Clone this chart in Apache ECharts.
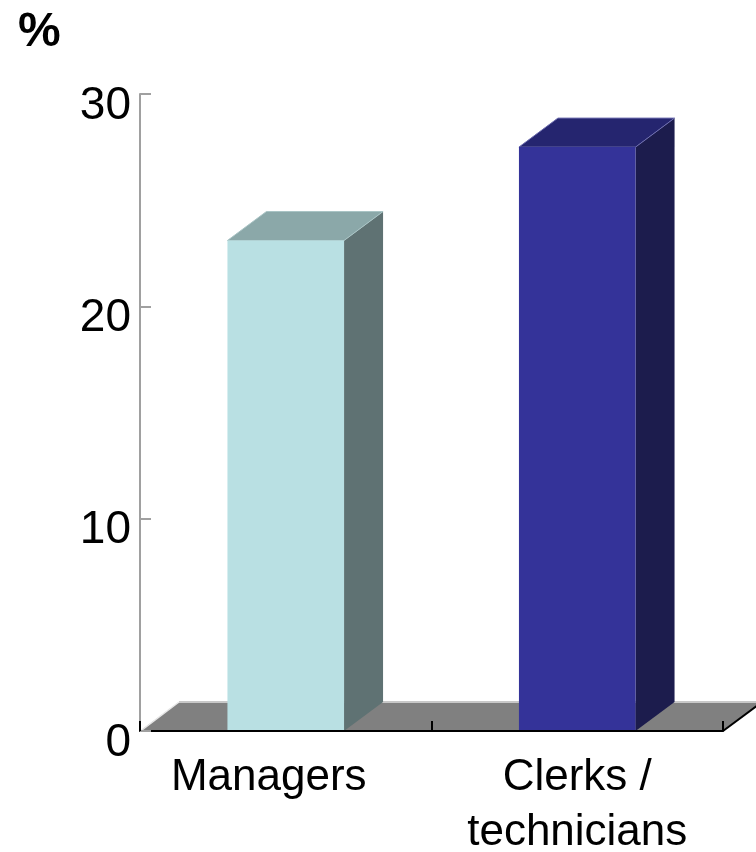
<!DOCTYPE html>
<html>
<head>
<meta charset="utf-8">
<script src="https://cdn.jsdelivr.net/npm/echarts@6/dist/echarts.min.js"></script>
<style>
  html, body { margin: 0; padding: 0; background: #ffffff; }
  #chart { width: 756px; height: 852px; }
</style>
</head>
<body>
<div id="chart"></div>
<script>
// Share of employees, by occupation (%)
const categories = ['Managers', 'Clerks /\ntechnicians'];
const shares = [23.1, 27.5];
const yTicks = [0, 10, 20, 30];

// Face colours per bar: front, top, side
const faceColors = [
  { front: '#b9e0e3', top: '#8ba8a9', side: '#5f7273', edge: '#a9c4c5' },
  { front: '#343399', top: '#25256f', side: '#1c1c4d', edge: '#6e6eb0' }
];

const FONT = '"Liberation Sans", Arial, Helvetica, sans-serif';
const DEPTH_X = 39;   // depth offset of the 3D look, in pixels
const DEPTH_Y = -29;
const BAR_RATIO = 0.4;

const chart = echarts.init(document.getElementById('chart'), null, { renderer: 'canvas' });

function renderFloor(params, api) {
  const band = api.size([1, 0])[0];
  const p0 = api.coord([0, 0]);
  const p1 = api.coord([categories.length - 1, 0]);
  const xl = p0[0] - band / 2, xr = p1[0] + band / 2, y = p0[1];
  return {
    type: 'group',
    children: [
      { type: 'polygon',
        shape: { points: [[xl, y], [xr, y], [xr + DEPTH_X, y + DEPTH_Y], [xl + DEPTH_X, y + DEPTH_Y]] },
        style: { fill: '#808080' } },
      { type: 'line',
        shape: { x1: xl + DEPTH_X, y1: y + DEPTH_Y, x2: xr + DEPTH_X, y2: y + DEPTH_Y },
        style: { stroke: '#c8c8c8', lineWidth: 2 } },
      { type: 'line',
        shape: { x1: xl + 2, y1: y - 1, x2: xl + DEPTH_X, y2: y + DEPTH_Y },
        style: { stroke: '#e8e8e8', lineWidth: 1.5 } },
      { type: 'line',
        shape: { x1: xr, y1: y, x2: xr + DEPTH_X, y2: y + DEPTH_Y },
        style: { stroke: '#000000', lineWidth: 2 } }
    ]
  };
}

function renderBar(params, api) {
  const idx = api.value(0);
  const top = api.coord([idx, api.value(1)]);
  const base = api.coord([idx, 0]);
  const bw = api.size([1, 0])[0] * BAR_RATIO;
  const l = top[0] - bw / 2, r = top[0] + bw / 2;
  const yt = top[1], yb = base[1];
  const c = faceColors[idx];
  return {
    type: 'group',
    children: [
      { type: 'polygon',
        shape: { points: [[r, yt], [r + DEPTH_X, yt + DEPTH_Y], [r + DEPTH_X, yb + DEPTH_Y], [r, yb]] },
        style: { fill: c.side } },
      { type: 'polygon',
        shape: { points: [[l, yt], [r, yt], [r + DEPTH_X, yt + DEPTH_Y], [l + DEPTH_X, yt + DEPTH_Y]] },
        style: { fill: c.top } },
      { type: 'polyline',
        shape: { points: [[l, yt], [l + DEPTH_X, yt + DEPTH_Y], [r + DEPTH_X, yt + DEPTH_Y], [r, yt], [l, yt]] },
        style: { stroke: c.edge, lineWidth: 1, fill: null } },
      { type: 'rect',
        shape: { x: l, y: yt, width: bw, height: yb - yt },
        style: { fill: c.front } }
    ]
  };
}

const option = {
  backgroundColor: '#ffffff',
  animation: false,
  title: {
    text: '%',
    left: 13, top: 4,
    textStyle: { fontFamily: FONT, fontSize: 48, fontWeight: 'bold', color: '#000000' }
  },
  grid: { left: 140, right: 33, top: 94, bottom: 121, containLabel: false, outerBoundsMode: 'none' },
  xAxis: {
    type: 'category',
    data: [
      { value: categories[0], textStyle: { padding: [0, 34, 0, 0] } },
      categories[1]
    ],
    z: 10,
    axisLine: { show: true, lineStyle: { color: '#000000', width: 2 } },
    axisTick: { show: true, inside: true, length: 10, lineStyle: { color: '#000000', width: 2 } },
    axisLabel: {
      fontFamily: FONT, fontSize: 44, color: '#000000',
      margin: 19, lineHeight: 55, interval: 0
    },
    splitLine: { show: false }
  },
  yAxis: {
    type: 'value',
    min: yTicks[0], max: yTicks[yTicks.length - 1], interval: 10,
    z: 10,
    axisLine: { show: true, lineStyle: { color: '#a0a0a0', width: 2 } },
    axisTick: { show: true, inside: true, length: 11, lineStyle: { color: '#a0a0a0', width: 2 } },
    axisLabel: {
      fontFamily: FONT, fontSize: 46, color: '#000000',
      margin: 9, lineHeight: 24,
      formatter: v => '\n' + v
    },
    splitLine: { show: false }
  },
  series: [
    {
      type: 'custom', name: 'floor', z: 1, clip: false, silent: true,
      renderItem: renderFloor,
      data: [[0, 0]],
      encode: { x: 0, y: 1 }
    },
    {
      type: 'custom', name: 'share', z: 3, clip: false,
      renderItem: renderBar,
      data: shares.map((v, i) => [i, v]),
      encode: { x: 0, y: 1 }
    }
  ]
};

chart.setOption(option);
</script>
</body>
</html>
